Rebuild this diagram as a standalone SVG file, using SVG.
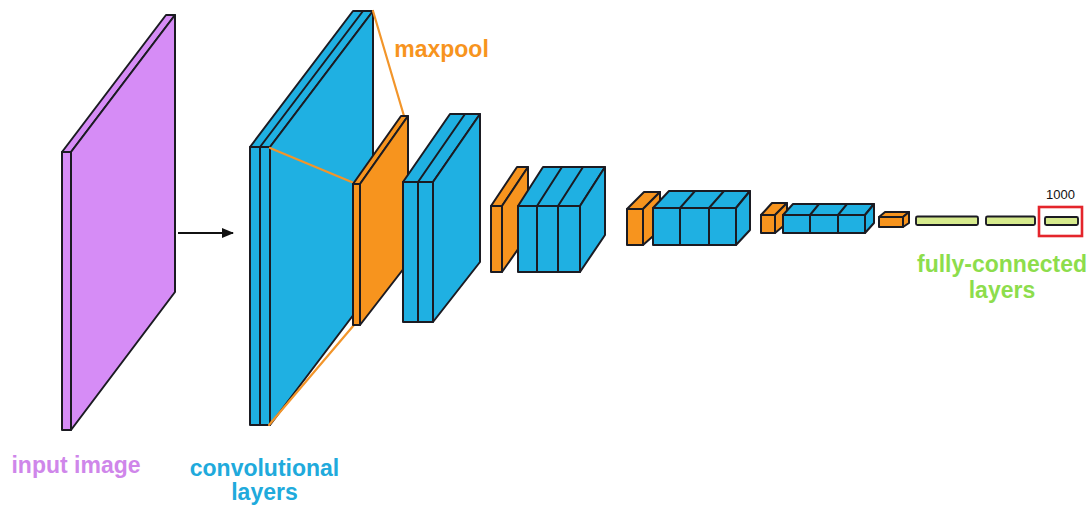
<svg xmlns="http://www.w3.org/2000/svg" width="1089" height="512" viewBox="0 0 1089 512">
  <defs>
    <style>
      .edge { stroke: #1b1b22; stroke-width: 2; stroke-linejoin: round; stroke-linecap: round; }
      .purple { fill: #d68cf6; }
      .blue { fill: #1fb0e2; }
      .orange { fill: #f7941e; }
      .fc { fill: #d6ea8d; stroke: #1b1b22; stroke-width: 1.9; }
      .pool { stroke: #f2952a; stroke-width: 2.2; fill: none; stroke-linecap: round; }
      .label { font-family: "Liberation Sans", Arial, sans-serif; font-weight: bold; font-size: 23px; text-anchor: middle; }
    </style>
    <marker id="arrowhead" viewBox="0 0 12 10" refX="11" refY="5" markerWidth="6" markerHeight="5" orient="auto" markerUnits="strokeWidth">
      <path d="M0,0 L12,5 L0,10 z" fill="#111"/>
    </marker>
  </defs>

  <rect width="1089" height="512" fill="#ffffff"/>

  <!-- input image slab -->
  <g id="input-image" class="edge purple">
    <polygon points="62,152 166,15 175,15 71,152"/>
    <polygon points="71,152 175,15 175,292 71,430"/>
    <rect x="62" y="152" width="9" height="278"/>
  </g>

  <!-- first convolution block -->
  <g id="conv1" class="edge blue">
    <polygon points="250,147 353,11 373,11 270,147"/>
    <line x1="260" y1="147" x2="363" y2="11"/>
    <polygon points="270,147 373,11 373,289 270,425"/>
    <rect x="250" y="147" width="10" height="278"/>
    <rect x="260" y="147" width="10" height="278"/>
  </g>

  <!-- projection lines of the pooling step -->
  <g id="pool-lines">
    <line class="pool" x1="373" y1="11" x2="404" y2="116"/>
    <line class="pool" x1="270" y1="148" x2="354" y2="183"/>
    <line class="pool" x1="269" y1="425" x2="354" y2="325"/>
  </g>

  <!-- first pooling slab -->
  <g id="pool1" class="edge orange">
    <polygon points="353,184 401,116 408,116 360,184"/>
    <polygon points="360,184 408,116 408,263 360,325"/>
    <rect x="353" y="184" width="7" height="141"/>
  </g>

  <!-- second convolution block -->
  <g id="conv2" class="edge blue">
    <polygon points="403,182 450,114 480,114 433,182"/>
    <line x1="418" y1="182" x2="465" y2="114"/>
    <polygon points="433,182 480,114 480,262 433,322"/>
    <rect x="403" y="182" width="15" height="140"/>
    <rect x="418" y="182" width="15" height="140"/>
  </g>

  <!-- second pooling slab -->
  <g id="pool2" class="edge orange">
    <polygon points="491,206 517,167 528,167 502,206"/>
    <polygon points="502,206 528,167 528,235 502,272"/>
    <rect x="491" y="206" width="11" height="66"/>
  </g>

  <!-- third convolution block -->
  <g id="conv3" class="edge blue">
    <polygon points="518,206 543,167 605,167 580,206"/>
    <line x1="537" y1="206" x2="562" y2="167"/>
    <line x1="558" y1="206" x2="583" y2="167"/>
    <polygon points="580,206 605,167 605,235 580,272"/>
    <rect x="518" y="206" width="19" height="66"/>
    <rect x="537" y="206" width="21" height="66"/>
    <rect x="558" y="206" width="22" height="66"/>
  </g>

  <!-- third pooling slab -->
  <g id="pool3" class="edge orange">
    <polygon points="627,209 644,192 660,192 643,209"/>
    <polygon points="643,209 660,192 660,230 643,245"/>
    <rect x="627" y="209" width="16" height="36"/>
  </g>

  <!-- fourth convolution block -->
  <g id="conv4" class="edge blue">
    <polygon points="653,208 669,191 750,191 736,208"/>
    <line x1="680" y1="208" x2="695" y2="191"/>
    <line x1="709" y1="208" x2="724" y2="191"/>
    <polygon points="736,208 750,191 750,230 736,245"/>
    <rect x="653" y="208" width="27" height="37"/>
    <rect x="680" y="208" width="29" height="37"/>
    <rect x="709" y="208" width="27" height="37"/>
  </g>

  <!-- fourth pooling slab -->
  <g id="pool4" class="edge orange">
    <polygon points="761,215 772,203 787,203 775,215"/>
    <polygon points="775,215 787,203 787,223 775,233"/>
    <rect x="761" y="215" width="14" height="18"/>
  </g>

  <!-- fifth convolution block -->
  <g id="conv5" class="edge blue">
    <polygon points="783,215 793,204 874,204 865,215"/>
    <line x1="810" y1="215" x2="819" y2="204"/>
    <line x1="838" y1="215" x2="847" y2="204"/>
    <polygon points="865,215 874,204 874,223 865,233"/>
    <rect x="783" y="215" width="27" height="18"/>
    <rect x="810" y="215" width="28" height="18"/>
    <rect x="838" y="215" width="27" height="18"/>
  </g>

  <!-- last pooling slab -->
  <g id="pool5" class="edge orange">
    <polygon points="879,217 885,212 909,212 903,217"/>
    <polygon points="903,217 909,212 909,223 903,227"/>
    <rect x="879" y="217" width="24" height="10"/>
  </g>

  <!-- fully-connected layers -->
  <g id="fc1"><rect class="fc" x="916" y="216.5" width="62" height="8.5" rx="1.5"/></g>
  <g id="fc2"><rect class="fc" x="986" y="216.5" width="49" height="8.5" rx="1.5"/></g>
  <g id="fc3">
    <rect class="fc" x="1045" y="217" width="33" height="8" rx="1.5"/>
    <rect x="1039" y="207" width="43" height="29" fill="none" stroke="#e4252b" stroke-width="2.6"/>
    <text x="1060.5" y="199" font-family="'Liberation Sans', Arial, sans-serif" font-size="13" text-anchor="middle" fill="#111">1000</text>
  </g>

  <!-- connector from the image into the network -->
  <g id="connectors">
    <line x1="178" y1="233" x2="233" y2="233" stroke="#111" stroke-width="2" marker-end="url(#arrowhead)"/>
  </g>

  <!-- labels -->
  <g id="labels">
    <text class="label" x="441.5" y="57" fill="#f7941e">maxpool</text>
    <text class="label" x="76" y="473" fill="#cf86ea">input image</text>
    <text class="label" x="264.5" y="476" fill="#20aadc">convolutional</text>
    <text class="label" x="264.5" y="500" fill="#20aadc">layers</text>
    <text class="label" x="1002" y="272" fill="#8ddd4c">fully-connected</text>
    <text class="label" x="1002" y="298" fill="#8ddd4c">layers</text>
  </g>
</svg>
